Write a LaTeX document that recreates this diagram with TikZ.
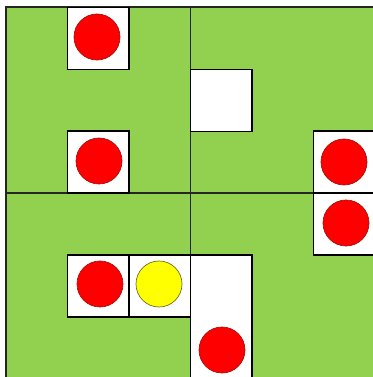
\documentclass[tikz,border=0pt]{standalone}
\usepackage{xcolor}
\definecolor{grass}{HTML}{92D050}
\definecolor{redfill}{HTML}{FF0000}
\definecolor{redline}{HTML}{A01010}
\definecolor{yelfill}{HTML}{FFFF00}
\definecolor{yelline}{HTML}{6B6B20}
\begin{document}
\begin{tikzpicture}[x=0.75pt,y=-0.75pt,
  cellbox/.style={draw=black,fill=white,line width=0.9pt,minimum width=61.5*0.75pt,minimum height=62*0.75pt,inner sep=0pt,outer sep=0pt},
  tallbox/.style={draw=black,fill=white,line width=0.9pt,minimum width=61.5*0.75pt,minimum height=124*0.75pt,inner sep=0pt,outer sep=0pt},
  redball/.style={circle,draw=redline,fill=redfill,line width=0.5pt,minimum size=46*0.75pt,inner sep=0pt},
  yelball/.style={circle,draw=yelline,fill=yelfill,line width=0.5pt,minimum size=46*0.75pt,inner sep=0pt},
  gridline/.style={draw=black!85,line width=1.3pt}]
\useasboundingbox (0,0) rectangle (373,377);
\fill[white] (0,0) rectangle (373,377);
\fill[grass] (6,7) rectangle (373,377);
\coordinate (tl) at (6,7);
\coordinate (tr) at (373,7);
\coordinate (bl) at (6,377);
\coordinate (vt) at (190.5,7);
\coordinate (vb) at (190.5,377);
\coordinate (hl) at (6,193);
\coordinate (hr) at (373,193);
\draw[gridline] (bl) -- (tl) -- (tr);
\draw[gridline] (vt) -- (vb);
\draw[gridline] (hl) -- (hr);
% white boxes
\node[cellbox] (b1) at (98.25,38.5) {};
\node[cellbox] (b2) at (98.25,162) {};
\node[cellbox] (b3) at (221.25,100.5) {};
\node[cellbox,minimum width=62*0.75pt] (b4) at (344.5,162) {};
\node[cellbox,minimum width=62*0.75pt] (b5) at (344.5,224) {};
\node[cellbox] (b6) at (98.25,286) {};
\node[cellbox] (b7) at (159.75,286) {};
\node[tallbox] (b8) at (221.25,317) {};
% balls
\node[redball] (r1) at (97,37) {};
\node[redball] (r2) at (99,161) {};
\node[redball] (r3) at (344,162) {};
\node[redball] (r4) at (346,223) {};
\node[redball] (r5) at (100,284) {};
\node[yelball] (y1) at (159,284) {};
\node[redball] (r6) at (222,350) {};
\end{tikzpicture}
\end{document}
